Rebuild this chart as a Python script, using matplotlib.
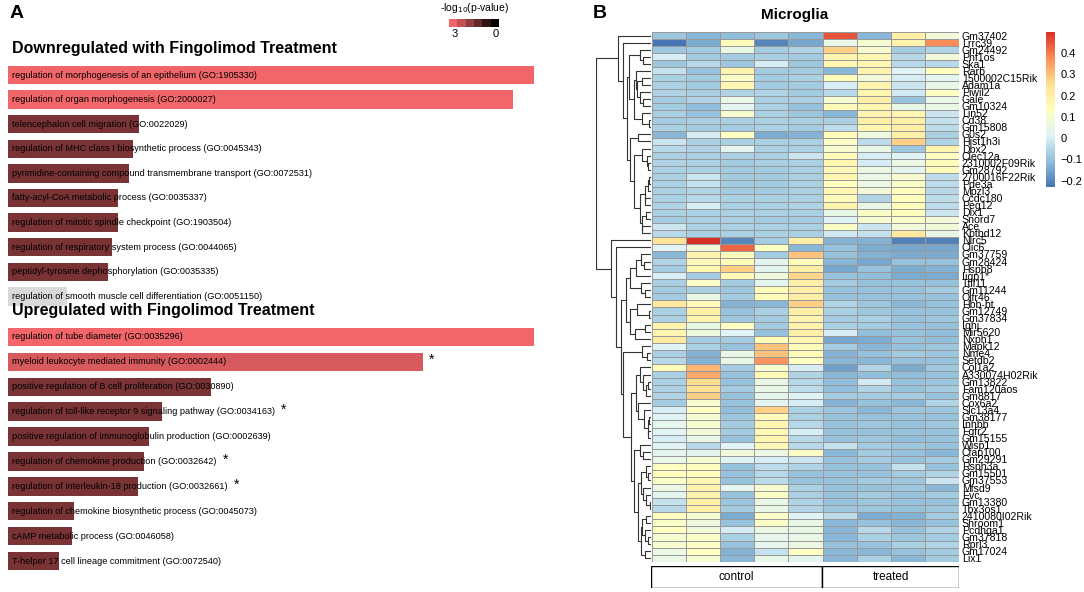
import numpy as np
import matplotlib
matplotlib.use('Agg')
import matplotlib.pyplot as plt
from matplotlib.colors import LinearSegmentedColormap, Normalize

plt.rcParams['font.family'] = ['Liberation Sans', 'DejaVu Sans']

W, H = 1084, 592

# ---- panel A: GO enrichment ----
down_terms = [
    'regulation of morphogenesis of an epithelium (GO:1905330)',
    'regulation of organ morphogenesis (GO:2000027)',
    'telencephalon cell migration (GO:0022029)',
    'regulation of MHC class I biosynthetic process (GO:0045343)',
    'pyrimidine-containing compound transmembrane transport (GO:0072531)',
    'fatty-acyl-CoA metabolic process (GO:0035337)',
    'regulation of mitotic spindle checkpoint (GO:1903504)',
    'regulation of respiratory system process (GO:0044065)',
    'peptidyl-tyrosine dephosphorylation (GO:0035335)',
    'regulation of smooth muscle cell differentiation (GO:0051150)',
]
down_score = [100, 96.0, 24.9, 23.8, 23.0, 20.9, 20.9, 19.8, 19.0, 11.2]
down_logp = [3, 3, 1.5, 1.5, 1.5, 1.5, 1.5, 1.5, 1.5, np.nan]
down_star = [False] * 10

up_terms = [
    'regulation of tube diameter (GO:0035296)',
    'myeloid leukocyte mediated immunity (GO:0002444)',
    'positive regulation of B cell proliferation (GO:0030890)',
    'regulation of toll-like receptor 9 signaling pathway (GO:0034163)',
    'positive regulation of immunoglobulin production (GO:0002639)',
    'regulation of chemokine production (GO:0032642)',
    'regulation of interleukin-18 production (GO:0032661)',
    'regulation of chemokine biosynthetic process (GO:0045073)',
    'cAMP metabolic process (GO:0046058)',
    'T-helper 17 cell lineage commitment (GO:0072540)',
]
up_score = [100, 78.9, 38.6, 29.2, 26.9, 25.9, 24.8, 12.5, 12.1, 9.7]
up_logp = [3, 2.65, 1.5, 1.5, 1.5, 1.5, 1.5, 1.5, 1.5, 1.5]
up_star = [False, True, False, True, False, True, True, False, False, False]

# ---- panel B: microglia heatmap ----
genes = ['Gm37402', 'Lrrc39', 'Gm24492', 'Phf1os', 'Ska1', 'Rarb', '1500002C15Rik',
         'Adam1a', 'Piwil2', 'Gale', 'Gm10324', 'Lin52', 'Cd38', 'Gm15808', 'G0s2',
         'Hist1h3i', 'Dbx2', 'Clec12a', '2310002F09Rik', 'Gm28792', '2700016F22Rik',
         'Pde3a', 'Mpzl3', 'Ccdc180', 'Peg12', 'Dlx1', 'Snord7', 'Ace', 'Kbtbd12',
         'Nlrc5', 'Clic6', 'Gm37759', 'Gm28424', 'Hspb8', 'Iigp1*', 'Ttll11',
         'Gm11244', 'Olfr46', 'Hbb-bt', 'Gm12749', 'Gm37834', 'Ighj', 'Mir5620',
         'Nxph1', 'Mapk12', 'Nme4', 'Setdb2', 'Col1a2', 'A330074H02Rik', 'Gm13822',
         'Fam120aos', 'Gm8817', 'Cox6a2', 'Slc13a4', 'Gm38177', 'Inhbb', 'Fgfr2',
         'Gm15155', 'Wisp1', 'Cfap100', 'Gm29291', 'Rsph3a', 'Gm15501', 'Gm37553',
         'Mfsd9', 'Evc', 'Gm13380', 'Tbx3os1', '2410080I02Rik', 'Shroom1', 'Pcdhga1',
         'Gm37818', 'Rprl3', 'Gm17024', 'Lix1']
groups = ['control', 'treated']
group_size = [5, 4]

expr = np.array([
    [-0.09, -0.12, -0.11, -0.09, -0.12, 0.45, -0.12, 0.20, 0.08],
    [-0.23, -0.14, 0.15, -0.20, -0.15, 0.05, 0.10, 0.18, 0.38],
    [-0.09, -0.08, 0.05, -0.08, -0.06, 0.28, 0.10, -0.08, -0.06],
    [0.00, -0.08, -0.08, -0.07, -0.08, 0.18, 0.17, -0.05, 0.08],
    [-0.09, -0.05, -0.09, 0.00, -0.09, 0.17, 0.17, -0.05, -0.05],
    [-0.03, -0.10, 0.18, -0.08, -0.08, -0.12, 0.18, 0.02, 0.14],
    [-0.07, -0.08, 0.12, -0.08, -0.07, 0.15, 0.08, 0.00, 0.03],
    [-0.07, -0.08, 0.17, -0.08, -0.08, 0.00, 0.18, -0.02, 0.05],
    [-0.06, -0.07, -0.06, -0.06, -0.08, -0.05, 0.17, -0.01, 0.13],
    [-0.08, -0.06, 0.05, -0.07, -0.07, 0.10, 0.20, -0.10, 0.05],
    [-0.08, -0.11, 0.03, -0.07, -0.10, 0.15, 0.17, 0.05, 0.05],
    [-0.07, -0.10, 0.10, -0.07, -0.09, -0.12, 0.18, 0.17, -0.02],
    [-0.08, -0.07, -0.07, -0.07, -0.07, -0.07, 0.20, 0.20, -0.03],
    [-0.07, -0.08, -0.08, -0.07, -0.08, -0.04, 0.17, 0.20, -0.04],
    [-0.12, 0.00, 0.13, -0.14, -0.13, 0.15, 0.07, 0.20, -0.07],
    [-0.02, -0.07, -0.07, -0.07, -0.07, 0.12, -0.04, 0.28, -0.06],
    [-0.05, -0.06, 0.03, -0.07, -0.07, 0.10, 0.05, -0.09, 0.18],
    [-0.07, -0.07, -0.07, -0.07, -0.02, 0.15, 0.00, 0.02, 0.13],
    [-0.06, -0.07, -0.08, -0.07, -0.07, 0.17, 0.00, 0.06, 0.15],
    [-0.07, -0.07, -0.08, -0.08, -0.07, 0.16, 0.06, 0.03, 0.15],
    [-0.07, -0.02, -0.08, -0.08, -0.07, 0.17, 0.05, 0.10, -0.04],
    [-0.07, -0.03, -0.08, -0.08, -0.07, 0.14, 0.06, 0.12, -0.04],
    [-0.07, -0.06, -0.08, -0.08, -0.07, 0.17, 0.08, 0.14, -0.05],
    [-0.07, -0.05, -0.07, -0.07, -0.07, 0.15, -0.06, 0.14, -0.04],
    [-0.06, 0.00, -0.07, -0.07, -0.06, 0.18, 0.05, 0.15, -0.04],
    [-0.07, -0.07, -0.07, -0.07, -0.07, 0.05, 0.12, 0.14, -0.02],
    [-0.08, -0.07, -0.07, -0.08, -0.08, 0.02, 0.10, 0.12, 0.08],
    [-0.02, -0.07, -0.07, -0.07, -0.07, 0.12, -0.02, 0.08, 0.08],
    [-0.05, -0.07, -0.07, -0.07, -0.07, -0.01, -0.03, 0.22, 0.05],
    [0.24, 0.50, -0.20, -0.08, 0.20, -0.13, -0.13, -0.21, -0.21],
    [0.02, 0.08, 0.43, 0.13, -0.12, -0.10, -0.14, -0.15, -0.15],
    [-0.12, 0.18, 0.15, -0.08, 0.30, -0.10, -0.13, -0.14, -0.14],
    [-0.06, 0.15, 0.15, 0.03, 0.15, -0.12, -0.15, -0.10, -0.10],
    [-0.08, 0.17, 0.28, 0.03, 0.20, -0.15, -0.10, -0.14, -0.13],
    [0.00, -0.08, 0.16, 0.07, 0.27, -0.10, -0.11, -0.14, -0.14],
    [-0.07, 0.12, -0.08, 0.03, 0.20, -0.08, -0.10, -0.10, -0.10],
    [-0.08, -0.07, -0.09, 0.15, 0.20, -0.10, -0.10, -0.10, -0.08],
    [-0.08, 0.05, -0.08, 0.15, 0.20, -0.10, -0.10, -0.10, -0.10],
    [0.22, 0.15, -0.13, -0.12, 0.28, -0.06, -0.09, -0.12, -0.10],
    [-0.07, 0.20, -0.10, -0.07, 0.20, -0.07, -0.09, -0.10, -0.10],
    [-0.07, 0.18, -0.09, -0.08, 0.18, -0.08, -0.07, -0.10, -0.09],
    [0.18, 0.05, 0.13, -0.08, 0.18, -0.07, -0.08, -0.10, -0.10],
    [0.17, 0.07, 0.02, -0.10, 0.20, 0.00, -0.11, -0.10, -0.11],
    [0.22, -0.08, -0.08, 0.15, 0.17, -0.15, -0.14, -0.10, -0.11],
    [0.02, -0.07, -0.10, 0.30, 0.15, -0.08, -0.12, -0.10, -0.09],
    [-0.07, -0.13, 0.05, 0.30, 0.15, -0.13, -0.10, -0.08, -0.09],
    [-0.05, -0.13, 0.05, 0.37, 0.13, -0.12, -0.12, -0.10, -0.10],
    [0.15, 0.32, -0.08, 0.10, 0.00, -0.16, -0.06, -0.14, -0.09],
    [-0.07, 0.34, -0.10, 0.16, -0.06, -0.12, -0.11, -0.11, -0.10],
    [-0.07, 0.26, -0.10, 0.05, -0.05, -0.11, -0.01, -0.10, -0.09],
    [-0.07, 0.25, -0.08, 0.05, -0.04, -0.11, -0.06, -0.10, -0.08],
    [-0.06, 0.28, -0.10, 0.04, 0.02, -0.08, -0.08, -0.08, -0.10],
    [-0.08, 0.10, -0.10, 0.03, 0.00, -0.13, -0.10, -0.12, -0.06],
    [0.00, 0.13, -0.11, 0.28, -0.07, -0.09, -0.12, -0.09, -0.09],
    [0.02, 0.10, -0.09, 0.15, -0.07, -0.10, -0.10, -0.10, -0.10],
    [0.04, 0.10, -0.08, 0.17, -0.05, -0.10, -0.09, -0.10, -0.09],
    [0.02, 0.08, -0.08, 0.16, 0.00, -0.10, -0.10, -0.10, -0.10],
    [0.00, 0.05, -0.10, 0.17, -0.05, -0.10, -0.09, -0.11, -0.10],
    [0.02, -0.05, 0.02, 0.16, -0.05, -0.03, -0.08, -0.09, -0.10],
    [0.03, 0.03, 0.08, 0.06, 0.12, -0.12, -0.08, -0.10, -0.12],
    [0.05, 0.10, 0.02, 0.00, -0.02, -0.10, -0.08, -0.10, -0.08],
    [0.13, 0.14, -0.10, -0.04, -0.06, -0.10, -0.10, -0.03, -0.10],
    [0.14, 0.14, -0.10, -0.05, -0.10, -0.10, -0.10, -0.08, -0.06],
    [0.12, 0.17, -0.10, -0.04, -0.10, -0.10, -0.08, -0.09, -0.02],
    [0.06, 0.18, 0.03, 0.10, -0.07, -0.10, -0.10, -0.09, -0.12],
    [0.03, 0.18, -0.10, 0.12, -0.07, -0.10, -0.08, -0.10, -0.08],
    [-0.03, 0.20, -0.09, 0.05, -0.06, -0.10, -0.09, -0.10, -0.10],
    [-0.05, 0.20, -0.08, 0.05, -0.06, -0.09, -0.09, -0.10, -0.09],
    [0.13, 0.10, -0.14, 0.12, 0.02, -0.04, -0.14, -0.13, -0.08],
    [0.12, 0.07, -0.10, 0.12, 0.05, -0.12, -0.10, -0.12, -0.10],
    [0.13, 0.08, 0.00, 0.06, 0.05, -0.12, -0.05, -0.10, -0.06],
    [0.10, 0.12, -0.07, 0.04, 0.05, -0.12, -0.07, -0.09, -0.08],
    [0.10, 0.12, -0.10, 0.04, 0.06, -0.10, -0.10, -0.07, -0.06],
    [0.06, 0.13, -0.13, -0.03, 0.13, -0.12, -0.12, -0.10, -0.08],
    [0.05, 0.10, -0.12, 0.05, 0.03, -0.12, -0.07, -0.12, -0.08],
])
cbar_ticks = [-0.2, -0.1, 0, 0.1, 0.2, 0.3, 0.4]


def px(left, top, width, height):
    # pixel box -> figure fraction
    return [left / W, 1 - (top + height) / H, width / W, height / H]


fig = plt.figure(figsize=(W / 100, H / 100), dpi=100)

pv_cmap = LinearSegmentedColormap.from_list('pv', ['#000000', '#F2666A'])
pv_cmap.set_bad('#D9D9D9')
pv_norm = Normalize(0, 3)


def go_bars(box, terms, score, logp, star):
    ax = fig.add_axes(px(*box))
    n = len(terms)
    cols = pv_cmap(pv_norm(np.ma.masked_invalid(logp)))
    ax.barh(np.arange(n), score, height=0.74, color=cols)
    ax.set_xlim(0, 100)
    ax.set_ylim(n - 0.5, -0.5)
    ax.axis('off')
    txts = []
    for i, t in enumerate(terms):
        txts.append(ax.text(0.76, i, t, va='center', ha='left', fontsize=6.6))
    fig.canvas.draw()
    inv = ax.transData.inverted()
    for i, t in enumerate(txts):
        if star[i]:
            x_end = inv.transform(t.get_window_extent().get_points())[1, 0]
            x_end = max(x_end, score[i])
            ax.text(x_end + 1.2, i - 0.08, '*', va='center', ha='left', fontsize=10)
    return ax


fig.text(10 / W, 1 - 13 / H, 'A', fontsize=14, fontweight='bold', va='center')
fig.text(12 / W, 1 - 49 / H, 'Downregulated with Fingolimod Treatment',
         fontsize=11.5, fontweight='bold', va='center')
fig.text(12 / W, 1 - 311 / H, 'Upregulated with Fingolimod Treatment',
         fontsize=11.5, fontweight='bold', va='center')
go_bars((8, 62.7, 526, 246), down_terms, down_score, down_logp, down_star)
go_bars((8, 324.5, 526, 249), up_terms, up_score, up_logp, up_star)

# p-value legend
lax = fig.add_axes(px(449, 19, 50, 8))
legend_vals = np.linspace(3, 0, 6)
lax.imshow(legend_vals[None, :], cmap=pv_cmap, norm=pv_norm, aspect='auto')
lax.axis('off')
fig.text(475 / W, 1 - 8 / H, r'-log$_{10}$(p-value)', fontsize=7.5, ha='center', va='center')
fig.text(455 / W, 1 - 34 / H, '3', fontsize=8, ha='center', va='center')
fig.text(496 / W, 1 - 34 / H, '0', fontsize=8, ha='center', va='center')

# ---- panel B ----
fig.text(593 / W, 1 - 13 / H, 'B', fontsize=14, fontweight='bold', va='center')
fig.text(795 / W, 1 - 15 / H, 'Microglia', fontsize=11, fontweight='bold',
         ha='center', va='center')

hm_cmap = LinearSegmentedColormap.from_list(
    'rdylbu', ['#4575B4', '#91BFDB', '#E0F3F8', '#FFFFBF', '#FEE090', '#FC8D59', '#D73027'])
hm_norm = Normalize(expr.min(), expr.max())
nr, nc = expr.shape

top, bot = 32, 561.7
hax = fig.add_axes(px(652, top, 307, bot - top))
hax.pcolormesh(np.arange(nc + 1), np.arange(nr + 1), expr, cmap=hm_cmap, norm=hm_norm,
               edgecolors='#999999', linewidth=0.7)
hax.set_xlim(0, nc)
hax.set_ylim(nr, 0)
hax.set_xticks([])
hax.yaxis.tick_right()
hax.set_yticks(np.arange(nr) + 0.5)
hax.set_yticklabels(genes, fontsize=7.6)
hax.tick_params(axis='y', length=0, pad=2)
for s in hax.spines.values():
    s.set_visible(False)

# row dendrogram: complete linkage, restricted to neighbouring clusters
D = np.sqrt(((expr[:, None, :] - expr[None, :, :]) ** 2).sum(-1))
clusters = [([i], i + 0.5, 0.0) for i in range(nr)]
segs = []
while len(clusters) > 1:
    dists = [D[np.ix_(clusters[k][0], clusters[k + 1][0])].max() for k in range(len(clusters) - 1)]
    k = int(np.argmin(dists))
    (ma, ya, ha), (mb, yb, hb) = clusters[k], clusters[k + 1]
    h = dists[k]
    segs.append(([ha, h, h, hb], [ya, ya, yb, yb]))
    clusters[k:k + 2] = [(ma + mb, (ya + yb) / 2, h)]
root_h = clusters[0][2]

dax = fig.add_axes(px(596, top, 55, bot - top))
for xs, ys in segs:
    dax.plot(xs, ys, color='#333333', lw=0.8, solid_capstyle='butt')
dax.set_xlim(root_h, 0)
dax.set_ylim(nr, 0)
dax.axis('off')

# colour key
cax = fig.add_axes(px(1046, 32, 9, 155))
cb = fig.colorbar(plt.cm.ScalarMappable(norm=hm_norm, cmap=hm_cmap), cax=cax)
cb.set_ticks(cbar_ticks)
cb.set_ticklabels([f'{t:g}'.replace('-', '\u2212') for t in cbar_ticks])
cb.outline.set_visible(False)
cax.tick_params(length=0, labelsize=8, pad=4)

# column annotation
aax = fig.add_axes(px(651, 566, 308, 22))
left = np.cumsum([0] + group_size[:-1])
aax.bar(left, 1, width=group_size, align='edge', color='white', edgecolor='black', lw=1)
for l, s, g in zip(left, group_size, groups):
    aax.text(l + s / 2, 0.5, g, ha='center', va='center', fontsize=8.5)
aax.set_xlim(0, nc)
aax.set_ylim(0, 1)
aax.axis('off')

fig.savefig('out.png', dpi=100)
